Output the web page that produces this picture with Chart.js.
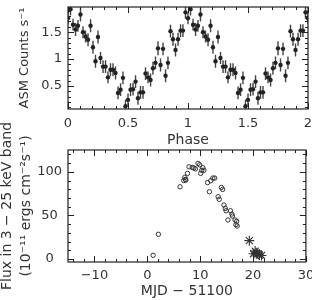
<!DOCTYPE html>
<html>
<head>
<meta charset="utf-8">
<script src="https://cdn.jsdelivr.net/npm/chart.js@4"></script>
<style>
  html, body { margin: 0; padding: 0; background: #fff; }
  #wrap { position: relative; width: 312px; height: 300px; overflow: hidden; }
  canvas { position: absolute; left: 0; top: 0; }
</style>
</head>
<body>
<div id="wrap">
  <canvas id="phaseChart" width="312" height="300"></canvas>
  <canvas id="fluxChart" width="312" height="300"></canvas>
</div>
<script>
// folded ASM light curve, one cycle (shown twice)
var phase = [0.000, 0.021, 0.042, 0.063, 0.083, 0.104, 0.125, 0.146, 0.167, 0.188,
             0.208, 0.229, 0.250, 0.271, 0.292, 0.313, 0.333, 0.354, 0.375, 0.396,
             0.417, 0.438, 0.458, 0.479, 0.500, 0.521, 0.542, 0.563, 0.583, 0.604,
             0.625, 0.646, 0.667, 0.688, 0.708, 0.729, 0.750, 0.771, 0.792, 0.813,
             0.833, 0.854, 0.875, 0.896, 0.917, 0.938, 0.958, 0.979];
var counts = [1.76, 1.93, 1.64, 1.55, 1.62, 1.83, 1.50, 1.42, 1.36, 1.62,
              1.22, 0.96, 1.41, 1.02, 0.86, 0.86, 0.66, 0.80, 0.80, 0.74,
              0.37, 0.43, 0.65, 0.12, 0.24, 0.43, 0.44, 0.58, 0.27, 0.38,
              0.38, 0.73, 0.66, 0.61, 0.83, 0.93, 1.20, 0.89, 1.19, 0.69,
              0.93, 1.52, 1.37, 1.17, 1.37, 1.53, 1.53, 1.87];
var countErr = [0.11, 0.12, 0.11, 0.12, 0.11, 0.13, 0.11, 0.11, 0.12, 0.12,
                0.12, 0.12, 0.12, 0.11, 0.12, 0.12, 0.11, 0.12, 0.12, 0.12,
                0.12, 0.12, 0.12, 0.12, 0.12, 0.12, 0.12, 0.12, 0.12, 0.12,
                0.12, 0.12, 0.11, 0.12, 0.12, 0.12, 0.13, 0.12, 0.12, 0.12,
                0.12, 0.12, 0.12, 0.12, 0.12, 0.12, 0.12, 0.12];
var cycles = [0, 1];

// outburst flux, 3-25 keV
var mjdCircle = [1.1, 2.1, 6.2, 6.9, 7.1, 7.2, 7.3, 7.6, 7.9, 8.5,
                 8.8, 9.1, 9.6, 9.9, 10.1, 10.3, 10.5, 10.7, 11.4, 11.75,
                 12.0, 12.4, 12.75, 13.4, 13.6, 14.0, 14.25, 14.5, 14.75, 14.9,
                 15.25, 15.75, 16.0, 16.1, 16.6, 16.9, 16.75, 17.0];
var fluxCircle = [4.2, 28.3, 82.8, 90.0, 93.6, 91.3, 90.5, 98.2, 105.7, 105.0,
                  104.4, 103.4, 109.6, 108.0, 98.2, 101.7, 104.7, 101.7, 87.6, 77.1,
                  89.7, 92.8, 92.8, 71.4, 68.4, 82.1, 79.8, 61.9, 58.1, 55.3,
                  44.7, 55.3, 51.5, 49.2, 44.7, 43.2, 39.3, 37.8];
var mjdStar = [19.3, 20.1, 20.4, 20.6, 20.9, 21.2, 21.6];
var fluxStar = [21, 6, 9, 7, 6, 4.5, 4];

var phaseTicks = { min: 0, max: 2, step: 0.5, minor: 0.1 };
var countTicks = { min: 0.07, max: 1.97, step: 0.5, minor: 0.1 };
var mjdTicks = { min: -15, max: 30, step: 10, minor: 2 };
var fluxTicks = { min: -3.5, max: 125, step: 50, minor: 10 };

Chart.defaults.font.family = "'DejaVu Sans', sans-serif";
Chart.defaults.font.size = 14;
Chart.defaults.color = '#333';

var ink = '#222';
var tickFont = { size: 13 };

// inward ticks on all four sides plus the frame
var boxTicks = {
  id: 'boxTicks',
  afterDatasetsDraw: function(chart, args, opts) {
    var ctx = chart.ctx, a = chart.chartArea;
    var xs = chart.scales.x, ys = chart.scales.y;
    ctx.save();
    ctx.strokeStyle = ink;
    ctx.lineWidth = 1.2;
    ctx.strokeRect(a.left, a.top, a.right - a.left, a.bottom - a.top);
    ctx.lineWidth = 1;
    ctx.beginPath();
    var k, v, p, len;
    for (k = Math.ceil(xs.min / opts.x.minor - 1e-9); k <= Math.floor(xs.max / opts.x.minor + 1e-9); k++) {
      v = k * opts.x.minor;
      len = Math.abs(v / opts.x.step - Math.round(v / opts.x.step)) < 1e-6 ? 6 : 3;
      p = Math.round(xs.getPixelForValue(v)) + 0.5;
      ctx.moveTo(p, a.bottom); ctx.lineTo(p, a.bottom - len);
      ctx.moveTo(p, a.top); ctx.lineTo(p, a.top + len);
    }
    for (k = Math.ceil(ys.min / opts.y.minor - 1e-9); k <= Math.floor(ys.max / opts.y.minor + 1e-9); k++) {
      v = k * opts.y.minor;
      len = Math.abs(v / opts.y.step - Math.round(v / opts.y.step)) < 1e-6 ? 6 : 3;
      p = Math.round(ys.getPixelForValue(v)) + 0.5;
      ctx.moveTo(a.left, p); ctx.lineTo(a.left + len, p);
      ctx.moveTo(a.right, p); ctx.lineTo(a.right - len, p);
    }
    ctx.stroke();
    ctx.restore();
  }
};

// vertical error bars
var errorBars = {
  id: 'errorBars',
  beforeDatasetsDraw: function(chart) {
    var ctx = chart.ctx, a = chart.chartArea;
    var xs = chart.scales.x, ys = chart.scales.y;
    ctx.save();
    ctx.beginPath();
    ctx.rect(a.left, a.top, a.right - a.left, a.bottom - a.top);
    ctx.clip();
    ctx.strokeStyle = '#444';
    ctx.lineWidth = 1.4;
    ctx.beginPath();
    chart.data.datasets.forEach(function(ds) {
      ds.data.forEach(function(d) {
        if (d.e === undefined) return;
        var px = xs.getPixelForValue(d.x);
        ctx.moveTo(px, ys.getPixelForValue(d.y - d.e));
        ctx.lineTo(px, ys.getPixelForValue(d.y + d.e));
      });
    });
    ctx.stroke();
    ctx.restore();
  }
};

function fixedAxis(size, horizontal) {
  return function(s) {
    if (horizontal) { s.height = size; s.paddingLeft = 0; s.paddingRight = 0; }
    else { s.width = size; s.paddingTop = 0; s.paddingBottom = 0; }
  };
}

// plain numbers: 1 not 1.0, minus sign not hyphen
function plainLabel(v) {
  return String(Math.round(v * 100) / 100).replace('-', '−');
}

var phasePoints = [];
cycles.forEach(function(c) {
  phase.forEach(function(p, i) {
    phasePoints.push({ x: p + c, y: counts[i], e: countErr[i] });
  });
});
phasePoints.push({ x: 2, y: counts[0], e: countErr[0] });

new Chart(document.getElementById('phaseChart').getContext('2d'), {
  type: 'scatter',
  data: {
    datasets: [{
      data: phasePoints,
      pointRadius: 2.2,
      pointBackgroundColor: ink,
      pointBorderColor: ink,
      pointBorderWidth: 0
    }]
  },
  options: {
    responsive: false,
    animation: false,
    devicePixelRatio: 1,
    layout: { padding: { left: 0, right: 4, top: 7, bottom: 151 } },
    plugins: {
      legend: { display: false },
      tooltip: { enabled: false },
      boxTicks: { x: phaseTicks, y: countTicks }
    },
    scales: {
      x: {
        type: 'linear',
        min: phaseTicks.min, max: phaseTicks.max,
        grid: { display: false, drawTicks: false },
        border: { display: false },
        ticks: { stepSize: phaseTicks.step, includeBounds: false, autoSkip: false, maxRotation: 0, padding: 7,
                 font: tickFont, callback: plainLabel },
        title: { display: true, text: 'Phase', padding: { top: 0, bottom: 0 } },
        afterFit: fixedAxis(40, true)
      },
      y: {
        min: countTicks.min, max: countTicks.max,
        grid: { display: false, drawTicks: false },
        border: { display: false },
        ticks: { stepSize: countTicks.step, includeBounds: false, padding: 6, font: tickFont, callback: plainLabel },
        title: { display: true, text: 'ASM Counts s⁻¹', font: { size: 13 }, padding: { top: 17, bottom: 0 } },
        afterFit: fixedAxis(68, false)
      }
    }
  },
  plugins: [errorBars, boxTicks]
});

function pairs(xv, yv) {
  return xv.map(function(x, i) { return { x: x, y: yv[i] }; });
}

new Chart(document.getElementById('fluxChart').getContext('2d'), {
  type: 'scatter',
  data: {
    datasets: [{
      data: pairs(mjdCircle, fluxCircle),
      pointStyle: 'circle',
      pointRadius: 2.2,
      pointBackgroundColor: 'rgba(0,0,0,0)',
      pointBorderColor: '#333',
      pointBorderWidth: 1
    }, {
      data: pairs(mjdStar, fluxStar),
      pointStyle: 'star',
      pointRadius: 5,
      pointBorderColor: '#333',
      pointBorderWidth: 1.1
    }]
  },
  options: {
    responsive: false,
    animation: false,
    devicePixelRatio: 1,
    layout: { padding: { left: 0, right: 4, top: 150, bottom: 0 } },
    plugins: {
      legend: { display: false },
      tooltip: { enabled: false },
      boxTicks: { x: mjdTicks, y: fluxTicks }
    },
    scales: {
      x: {
        type: 'linear',
        min: mjdTicks.min, max: mjdTicks.max,
        grid: { display: false, drawTicks: false },
        border: { display: false },
        ticks: {
          stepSize: mjdTicks.step, includeBounds: false, autoSkip: false, maxRotation: 0, padding: 6,
          font: tickFont, callback: plainLabel
        },
        title: { display: true, text: 'MJD − 51100', padding: { top: 0, bottom: 0 } },
        afterFit: fixedAxis(38, true)
      },
      y: {
        min: fluxTicks.min, max: fluxTicks.max,
        grid: { display: false, drawTicks: false },
        border: { display: false },
        ticks: { stepSize: fluxTicks.step, includeBounds: false, padding: 6, crossAlign: 'center',
                 font: tickFont, callback: plainLabel },
        title: {
          display: true,
          text: ['Flux in 3 − 25 keV band', '(10⁻¹¹ ergs cm⁻²s⁻¹)'],
          font: { lineHeight: '19px' },
          padding: { top: -2, bottom: 0 }
        },
        afterFit: fixedAxis(68, false)
      }
    }
  },
  plugins: [boxTicks]
});
</script>
</body>
</html>
